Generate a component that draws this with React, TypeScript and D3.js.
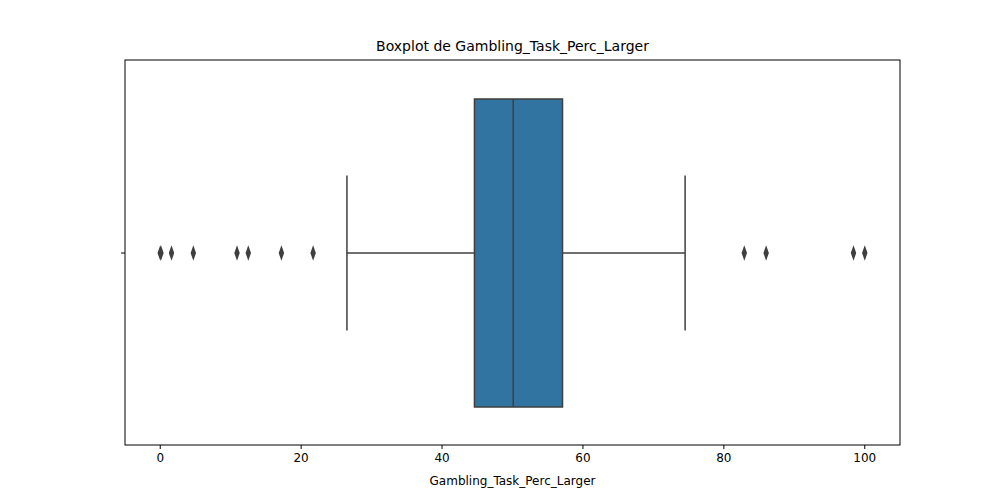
import React from "react";
import * as d3 from "d3";

const xTicks = [0, 20, 40, 60, 80, 100];
const stats = { whiskerLow: 26.5, q1: 44.6, median: 50.1, q3: 57.1, whiskerHigh: 74.5 };
const outliers = [0, 0.1, 1.6, 4.7, 10.9, 12.5, 17.2, 21.7, 82.9, 86.0, 98.4, 100];

export default function App() {
  const W = 1000, H = 500;
  const L = 125, R = 900, T = 60, B = 445;
  const x = d3.scaleLinear().domain([-5, 105]).range([L, R]);
  const cy = (T + B) / 2 + 0.5;
  const boxH = 308, capH = 155;
  const line = "#3f3f3f";
  const font = "DejaVu Sans, sans-serif";
  const diamond = d3.symbol().type(d3.symbolDiamond).size(40)() as string;
  return (
    <svg width={W} height={H} style={{ position: "absolute", left: 0, top: 0, background: "#fff" }} fontFamily={font}>
      <text x={(L + R) / 2} y={51} textAnchor="middle" fontSize={14}>Boxplot de Gambling_Task_Perc_Larger</text>
      {/* whiskers */}
      <line x1={x(stats.whiskerLow)} x2={x(stats.q1)} y1={cy} y2={cy} stroke={line} strokeWidth={1.5} />
      <line x1={x(stats.q3)} x2={x(stats.whiskerHigh)} y1={cy} y2={cy} stroke={line} strokeWidth={1.5} />
      <line x1={x(stats.whiskerLow)} x2={x(stats.whiskerLow)} y1={cy - capH / 2} y2={cy + capH / 2} stroke={line} strokeWidth={1.5} />
      <line x1={x(stats.whiskerHigh)} x2={x(stats.whiskerHigh)} y1={cy - capH / 2} y2={cy + capH / 2} stroke={line} strokeWidth={1.5} />
      <rect x={x(stats.q1)} y={cy - boxH / 2} width={x(stats.q3) - x(stats.q1)} height={boxH} fill="#3274a1" stroke={line} strokeWidth={1.5} />
      <line x1={x(stats.median)} x2={x(stats.median)} y1={cy - boxH / 2} y2={cy + boxH / 2} stroke={line} strokeWidth={1.5} />
      {outliers.map((v, i) => (
        <path key={i} d={diamond} transform={`translate(${x(v)},${cy}) scale(0.8,1.3)`} fill={line} />
      ))}
      <rect x={L} y={T} width={R - L} height={B - T} fill="none" stroke="#000" strokeWidth={1} />
      <line x1={L - 4} x2={L} y1={cy} y2={cy} stroke="#000" />
      {xTicks.map(t => (
        <g key={t}>
          <line x1={x(t)} x2={x(t)} y1={B} y2={B + 4} stroke="#000" />
          <text x={x(t)} y={B + 17} textAnchor="middle" fontSize={12}>{t}</text>
        </g>
      ))}
      <text x={(L + R) / 2} y={485} textAnchor="middle" fontSize={12}>Gambling_Task_Perc_Larger</text>
    </svg>
  );
}
